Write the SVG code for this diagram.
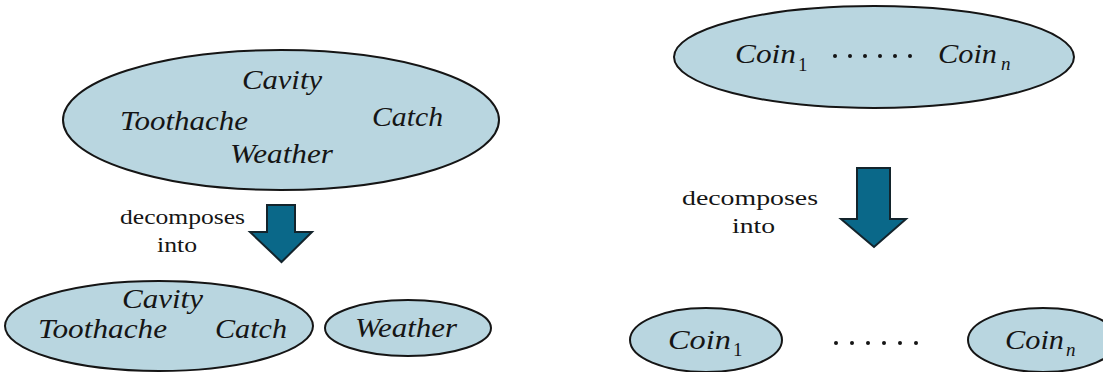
<svg xmlns="http://www.w3.org/2000/svg" width="1103" height="372" viewBox="0 0 1103 372">
<style>
text{font-family:'Liberation Serif','Times New Roman',Times,serif;fill:#151515}
.node{fill:#b9d6e0;stroke:#151515;stroke-width:2}
.lbl{font-style:italic;font-size:27px}
.sub{font-size:19px}
.subi{font-style:italic;font-size:19px}
.cap{font-size:20px}
.arr{fill:#0a6889;stroke:#13242c;stroke-width:2;stroke-linejoin:miter}
.dot{fill:#151515}
</style>
<rect width="1103" height="372" fill="#ffffff"/>
<g id="node-top-left">
<ellipse class="node" cx="281" cy="120" rx="218" ry="70"/>
<text class="lbl" x="242" y="89" textLength="80" lengthAdjust="spacingAndGlyphs">Cavity</text>
<text class="lbl" x="120" y="130" textLength="128" lengthAdjust="spacingAndGlyphs">Toothache</text>
<text class="lbl" x="372" y="126" textLength="71" lengthAdjust="spacingAndGlyphs">Catch</text>
<text class="lbl" x="230" y="163" textLength="103" lengthAdjust="spacingAndGlyphs">Weather</text>
</g>
<g id="node-bottom-left-a">
<ellipse class="node" cx="159" cy="326" rx="154" ry="45"/>
<text class="lbl" x="122" y="308" textLength="81" lengthAdjust="spacingAndGlyphs">Cavity</text>
<text class="lbl" x="38" y="338" textLength="129" lengthAdjust="spacingAndGlyphs">Toothache</text>
<text class="lbl" x="215" y="338" textLength="72" lengthAdjust="spacingAndGlyphs">Catch</text>
</g>
<g id="node-bottom-left-b">
<ellipse class="node" cx="408" cy="328" rx="83" ry="28"/>
<text class="lbl" x="355" y="337" textLength="102" lengthAdjust="spacingAndGlyphs">Weather</text>
</g>
<g id="node-top-right">
<ellipse class="node" cx="874" cy="57" rx="200" ry="51"/>
<text class="lbl" x="735" y="63" textLength="61" lengthAdjust="spacingAndGlyphs">Coin</text>
<text class="sub" x="798" y="71">1</text>
<circle class="dot" cx="835" cy="56" r="2"/><circle class="dot" cx="850" cy="56" r="2"/><circle class="dot" cx="865" cy="56" r="2"/><circle class="dot" cx="880" cy="56" r="2"/><circle class="dot" cx="895" cy="56" r="2"/><circle class="dot" cx="910" cy="56" r="2"/>
<text class="lbl" x="938" y="63" textLength="59" lengthAdjust="spacingAndGlyphs">Coin</text>
<text class="subi" x="1001" y="70">n</text>
</g>
<g id="node-bottom-right-1">
<ellipse class="node" cx="706" cy="340" rx="76" ry="32"/>
<text class="lbl" x="668" y="349" textLength="63" lengthAdjust="spacingAndGlyphs">Coin</text>
<text class="sub" x="733" y="356">1</text>
</g>
<g id="dots-bottom-right">
<circle class="dot" cx="836" cy="343" r="2"/><circle class="dot" cx="852" cy="343" r="2"/><circle class="dot" cx="868" cy="343" r="2"/><circle class="dot" cx="884" cy="343" r="2"/><circle class="dot" cx="900" cy="343" r="2"/><circle class="dot" cx="916" cy="343" r="2"/>
</g>
<g id="node-bottom-right-n">
<ellipse class="node" cx="1043" cy="340" rx="75" ry="32"/>
<text class="lbl" x="1005" y="349" textLength="59" lengthAdjust="spacingAndGlyphs">Coin</text>
<text class="subi" x="1066" y="356">n</text>
</g>
<g id="connectors">
<path class="arr" d="M267,205 H295 V232 H312 L281.5,262 L250,232 H267 Z"/>
<text class="cap" x="182.5" y="224" text-anchor="middle" textLength="125" lengthAdjust="spacingAndGlyphs">decomposes</text>
<text class="cap" x="177" y="252" text-anchor="middle" textLength="40" lengthAdjust="spacingAndGlyphs">into</text>
<path class="arr" d="M857,168 H890 V219 H906 L874,247 L841,219 H857 Z"/>
<text class="cap" x="750" y="205" text-anchor="middle" textLength="136" lengthAdjust="spacingAndGlyphs">decomposes</text>
<text class="cap" x="753.5" y="233" text-anchor="middle" textLength="43" lengthAdjust="spacingAndGlyphs">into</text>
</g>
</svg>
